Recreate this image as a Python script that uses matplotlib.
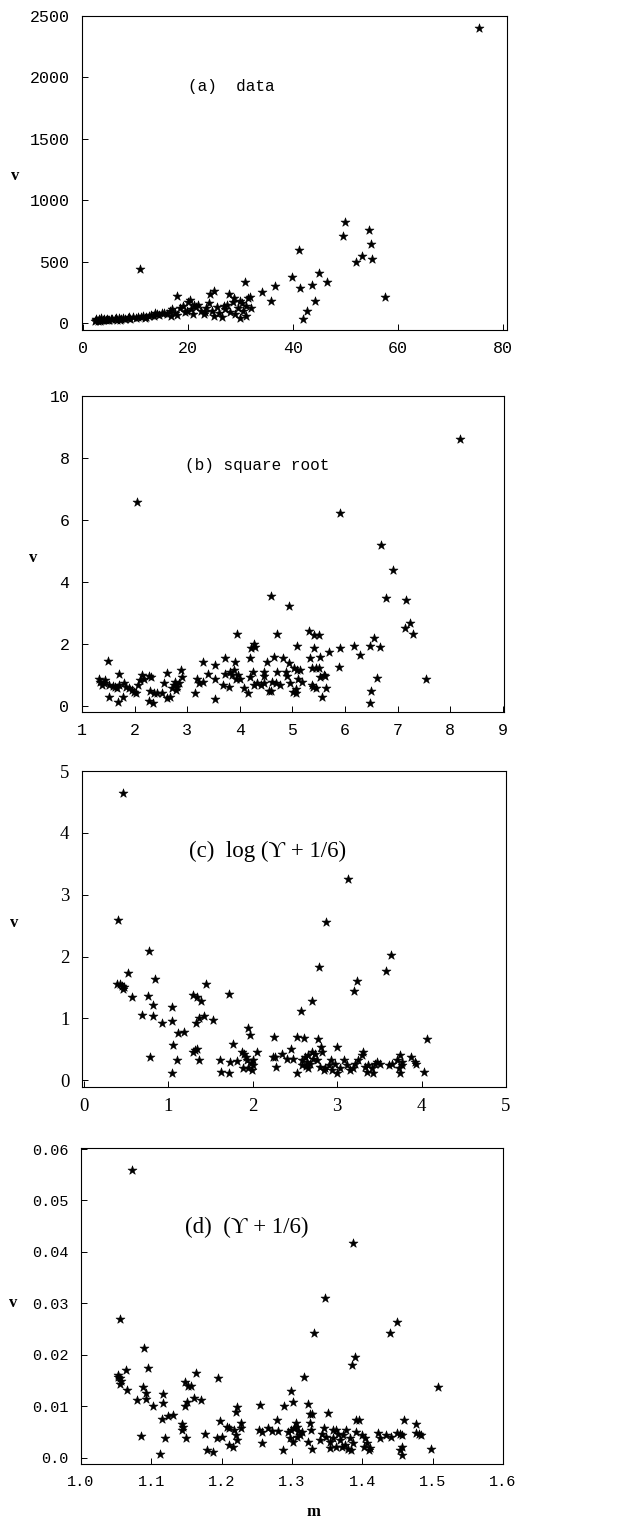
import matplotlib
matplotlib.use("Agg")
import matplotlib.pyplot as plt
import numpy as np

# (a) raw data
a_m = [75.4, 10.9, 49.9, 49.6, 54.5, 54.8, 55.1, 53.2, 52.1, 57.5, 41.1, 39.8, 41.3, 44.9, 43.7,
       46.4, 44.3, 42.6, 41.9, 34.1, 36.6, 35.9, 30.8, 17.9, 20.4, 24.2, 24.9, 27.9,
       2.2, 2.5, 2.8, 3.0, 3.2, 3.5, 3.8, 4.0, 4.3, 4.6, 5.0, 5.3, 5.6, 6.0, 6.4, 6.8, 7.2, 7.6,
       8.0, 8.5, 9.0, 9.5, 10.0, 10.5, 11.0, 11.5, 12.0, 12.5, 13.0, 13.5, 14.0, 14.5, 15.0,
       15.5, 16.0, 16.5, 17.0, 17.5, 18.0, 18.5, 19.0, 19.5, 20.0, 20.5, 21.0, 21.5, 22.0,
       22.5, 23.0, 23.5, 24.0, 24.5, 25.0, 25.5, 26.0, 26.5, 27.0, 27.5, 28.0, 28.5, 29.0,
       29.5, 30.0, 30.5, 31.0, 31.5, 31.0, 30.0, 32.0, 2.4, 3.4, 4.8, 6.2, 7.0, 8.8, 11.8,
       13.8, 16.8, 19.8, 21.2, 23.2, 26.8, 28.8, 30.2, 31.8]
a_v = [2399, 439, 819, 710, 754, 645, 520, 548, 493, 209, 596, 374, 285, 407, 312,
       331, 176, 95, 33, 252, 304, 176, 331, 217, 190, 239, 258, 239,
       15, 25, 20, 30, 18, 28, 22, 35, 25, 32, 28, 36, 30, 33, 28, 38, 34, 40,
       30, 42, 36, 48, 40, 52, 45, 60, 50, 58, 68, 55, 70, 62, 78,
       85, 70, 95, 110, 80, 65, 120, 140, 90, 170, 110, 75, 130, 150,
       95, 70, 120, 160, 100, 60, 130, 80, 50, 110, 150, 90, 170, 70,
       120, 180, 100, 140, 200, 60, 40, 120, 32, 40, 22, 42, 28, 48, 38,
       80, 60, 100, 150, 90, 140, 200, 160, 210]

# (b) square root
b_m = [2.04, 8.18, 5.91, 6.68, 6.91, 6.77, 7.15, 7.14, 7.23, 7.29, 4.59, 4.93, 3.95, 4.70,
       5.32, 5.40, 5.50, 1.49, 1.35, 1.41, 1.38, 1.44, 1.33, 1.52, 1.59, 1.63, 1.70, 1.66,
       1.70, 1.52, 1.68, 1.78, 1.80, 1.84, 1.89, 1.95, 1.98, 2.03, 2.06, 2.10, 2.14, 2.18,
       2.27, 2.31, 2.30, 2.37, 2.27, 2.35, 2.42, 2.52, 2.61, 2.56, 2.61, 2.67, 2.71, 2.74,
       2.77, 2.81, 2.79, 2.84, 2.88, 2.90, 3.15, 3.19, 3.22, 3.30, 3.30, 3.39, 3.53, 3.53,
       3.52, 3.68, 3.72, 3.79, 3.72, 3.82, 3.88, 3.91, 3.96, 4.00, 3.85, 3.93, 4.07, 4.15,
       4.20, 4.20, 4.21, 4.26, 4.29, 4.25, 4.26, 4.33, 4.40, 4.45, 4.45, 4.45, 4.52, 4.56,
       4.59, 4.64, 4.62, 4.68, 4.71, 4.76, 4.82, 4.87, 4.90, 4.93, 4.96, 5.01, 5.06, 5.07,
       5.02, 5.08, 5.11, 5.18, 5.15, 5.09, 5.34, 5.37, 5.44, 5.50, 5.40, 5.39, 5.45, 5.37,
       5.52, 5.53, 5.59, 5.62, 5.56, 5.63, 5.69, 5.88, 5.90, 6.16, 6.29, 6.47, 6.54, 6.66,
       6.61, 6.49, 6.47, 7.54]
b_v = [6.59, 8.60, 6.24, 5.19, 4.39, 3.49, 3.42, 2.53, 2.67, 2.32, 3.56, 3.23, 2.34, 2.34,
       2.43, 2.29, 2.29, 1.45, 0.78, 0.73, 0.68, 0.84, 0.86, 0.68, 0.65, 0.62, 0.68, 0.57,
       1.05, 0.28, 0.12, 0.30, 0.73, 0.62, 0.57, 0.52, 0.46, 0.41, 0.68, 0.84, 1.00, 0.89,
       0.97, 0.95, 0.49, 0.41, 0.16, 0.11, 0.41, 0.43, 1.08, 0.75, 0.25, 0.30, 0.57, 0.68,
       0.78, 0.62, 0.52, 0.73, 1.18, 0.95, 0.43, 0.89, 0.73, 0.78, 1.43, 1.03, 1.32, 0.89,
       0.22, 0.68, 1.54, 0.62, 1.05, 1.11, 1.18, 1.43, 1.00, 0.89, 1.00, 0.89, 0.57, 0.41,
       0.95, 1.54, 1.86, 2.00, 1.89, 1.11, 0.68, 0.73, 0.68, 0.73, 1.11, 0.97, 1.43, 0.50,
       0.50, 1.59, 0.78, 0.73, 1.11, 0.68, 1.54, 1.11, 0.97, 1.38, 0.73, 0.46, 0.41, 0.54,
       1.22, 1.16, 0.89, 0.78, 1.16, 1.94, 1.54, 1.22, 1.22, 1.22, 1.86, 0.62, 0.57, 0.68,
       1.59, 0.95, 1.00, 0.97, 0.28, 0.60, 1.75, 1.27, 1.86, 1.94, 1.65, 1.94, 2.21, 1.91,
       0.92, 0.49, 0.11, 0.86]

# (c) log (Y + 1/6)
c_m = [0.465, 0.402, 0.769, 2.87, 3.13, 2.79, 3.64, 3.58, 3.23, 3.20, 2.70, 2.57,
       0.40, 0.45, 0.48, 0.46, 0.43, 0.52, 0.57, 0.76, 0.84, 0.82, 0.69, 0.82, 0.93, 0.79,
       1.04, 1.04, 1.06, 1.12, 1.19, 1.11, 1.05, 1.30, 1.34, 1.39, 1.45, 1.33, 1.36, 1.43,
       1.53, 1.30, 1.32, 1.34, 1.37, 1.61, 1.62, 1.72, 1.72, 1.73, 1.77, 1.81, 1.88, 1.90,
       1.92, 1.95, 1.97, 1.93, 1.98, 2.00, 1.95, 1.99, 2.01, 2.05, 1.89, 2.25, 2.24, 2.27,
       2.28, 2.35, 2.41, 2.45, 2.48, 2.52, 2.61, 2.53, 2.58, 2.62, 2.64, 2.66, 2.68, 2.71,
       2.74, 2.58, 2.63, 2.70, 2.76, 2.66, 2.78, 2.81, 2.82, 2.80, 2.84, 2.86, 2.90, 2.93,
       2.98, 2.94, 3.00, 3.04, 3.08, 3.12, 3.15, 3.19, 3.21, 3.25, 3.29, 3.31, 3.33, 3.35,
       3.37, 3.41, 3.43, 3.45, 3.47, 3.00, 3.51, 3.61, 3.65, 3.71, 3.75, 3.73, 3.75, 3.77,
       3.77, 3.88, 3.92, 3.94, 4.03, 4.07]
c_v = [4.64, 2.59, 2.09, 2.56, 3.26, 1.83, 2.02, 1.76, 1.61, 1.45, 1.28, 1.12,
       1.56, 1.52, 1.50, 1.48, 1.55, 1.73, 1.35, 1.36, 1.64, 1.21, 1.05, 1.04, 0.93, 0.37,
       1.18, 0.95, 0.57, 0.77, 0.78, 0.32, 0.11, 1.38, 1.35, 1.28, 1.55, 0.92, 1.00, 1.04,
       0.97, 0.46, 0.49, 0.51, 0.33, 0.33, 0.13, 1.40, 0.12, 0.30, 0.58, 0.31, 0.46, 0.43,
       0.38, 0.85, 0.73, 0.32, 0.28, 0.24, 0.19, 0.16, 0.32, 0.46, 0.19, 0.70, 0.38, 0.38,
       0.22, 0.43, 0.35, 0.50, 0.35, 0.70, 0.69, 0.11, 0.32, 0.38, 0.30, 0.40, 0.27, 0.35,
       0.43, 0.24, 0.23, 0.46, 0.32, 0.19, 0.67, 0.53, 0.46, 0.22, 0.16, 0.19, 0.24, 0.32,
       0.27, 0.16, 0.11, 0.19, 0.32, 0.24, 0.16, 0.19, 0.27, 0.32, 0.40, 0.46, 0.22, 0.13,
       0.24, 0.19, 0.11, 0.27, 0.30, 0.54, 0.27, 0.24, 0.26, 0.32, 0.40, 0.19, 0.11, 0.24,
       0.30, 0.37, 0.30, 0.27, 0.13, 0.66]

# (d) (Y + 1/6)
d_m = [1.073, 1.056, 1.0895, 1.0947, 1.064, 1.052, 1.055, 1.057, 1.056, 1.053, 1.065, 1.079,
       1.0876, 1.093, 1.093, 1.103, 1.117, 1.117, 1.115, 1.124, 1.131, 1.085, 1.112, 1.119,
       1.148, 1.152, 1.157, 1.164, 1.148, 1.151, 1.160, 1.170, 1.143, 1.144, 1.145, 1.150,
       1.176, 1.179, 1.187, 1.195, 1.198, 1.193, 1.200, 1.207, 1.210, 1.210, 1.216, 1.220,
       1.222, 1.218, 1.220, 1.222, 1.228, 1.228, 1.255, 1.253, 1.257, 1.257, 1.266, 1.271,
       1.278, 1.280, 1.287, 1.289, 1.298, 1.302, 1.295, 1.299, 1.303, 1.307, 1.309, 1.312,
       1.297, 1.302, 1.307, 1.314, 1.305, 1.317, 1.323, 1.325, 1.328, 1.325, 1.327, 1.323,
       1.328, 1.331, 1.347, 1.351, 1.342, 1.349, 1.354, 1.359, 1.363, 1.368, 1.373, 1.377,
       1.382, 1.387, 1.380, 1.384, 1.340, 1.354, 1.359, 1.366, 1.376, 1.371, 1.345, 1.362,
       1.387, 1.385, 1.389, 1.391, 1.395, 1.391, 1.399, 1.404, 1.406, 1.409, 1.402, 1.411,
       1.422, 1.425, 1.434, 1.441, 1.439, 1.449, 1.449, 1.454, 1.459, 1.457, 1.456, 1.453,
       1.456, 1.476, 1.477, 1.481, 1.484, 1.497, 1.508]
d_v = [0.0560, 0.0269, 0.0213, 0.0174, 0.0171, 0.0158, 0.0155, 0.0150, 0.0143, 0.0160, 0.0132, 0.0112,
       0.0137, 0.0125, 0.0115, 0.0100, 0.0124, 0.0107, 0.0075, 0.0081, 0.0083, 0.0042, 0.0008, 0.0038,
       0.0148, 0.0140, 0.0140, 0.0165, 0.0100, 0.0109, 0.0117, 0.0113, 0.0055, 0.0065, 0.0060, 0.0038,
       0.0046, 0.0016, 0.0012, 0.0156, 0.0072, 0.0038, 0.0041, 0.0060, 0.0057, 0.0025, 0.0021, 0.0090,
       0.0099, 0.0054, 0.0044, 0.0034, 0.0067, 0.0057, 0.0103, 0.0054, 0.0051, 0.0028, 0.0057, 0.0052,
       0.0073, 0.0052, 0.0016, 0.0101, 0.0130, 0.0109, 0.0051, 0.0054, 0.0057, 0.0060, 0.0052, 0.0044,
       0.0038, 0.0031, 0.0041, 0.0051, 0.0067, 0.0158, 0.0104, 0.0085, 0.0086, 0.0067, 0.0054, 0.0031,
       0.0018, 0.0242, 0.0310, 0.0088, 0.0047, 0.0041, 0.0031, 0.0038, 0.0021, 0.0034, 0.0044, 0.0054,
       0.0038, 0.0028, 0.0018, 0.0015, 0.0034, 0.0020, 0.0054, 0.0047, 0.0025, 0.0021, 0.0057, 0.0055,
       0.0418, 0.0180, 0.0195, 0.0073, 0.0073, 0.0051, 0.0044, 0.0038, 0.0028, 0.0015, 0.0021, 0.0020,
       0.0049, 0.0038, 0.0044, 0.0041, 0.0242, 0.0263, 0.0049, 0.0047, 0.0073, 0.0044, 0.0021, 0.0015,
       0.0005, 0.0066, 0.0049, 0.0046, 0.0044, 0.0018, 0.0138]

mono = "Liberation Mono"
serif = ["Liberation Serif", "DejaVu Serif"]

fig = plt.figure(figsize=(6.26, 15.26), dpi=100)
W, H = 626, 1526


def make_axes(left, right, top, bottom):
    # box given in pixels from the top-left corner of the figure
    return fig.add_axes([left / W, 1 - bottom / H, (right - left) / W, (bottom - top) / H])


panels = [
    dict(box=(82, 507, 16, 330), m=a_m, v=a_v, xlim=(-0.2, 80.8), ylim=(-57, 2500),
         xt=[0, 20, 40, 60, 80], yt=[0, 500, 1000, 1500, 2000, 2500],
         xl=["0", "20", "40", "60", "80"], yl=["0", "500", "1000", "1500", "2000", "2500"],
         title="(a)  data", tpos=(0.25, 0.777), tfont=mono, tsize=11.5, vpos=(15, 176),
         tickfont=mono, ticksize=12),
    dict(box=(82, 504, 396, 712), m=b_m, v=b_v, xlim=(1.0, 9.02), ylim=(-0.19, 10),
         xt=list(range(1, 10)), yt=[0, 2, 4, 6, 8, 10],
         xl=[str(i) for i in range(1, 10)], yl=["0", "2", "4", "6", "8", "10"],
         title="(b) square root", tpos=(0.244, 0.78), tfont=mono, tsize=11.5, vpos=(33, 558),
         tickfont=mono, ticksize=12),
    dict(box=(82, 506, 771, 1087), m=c_m, v=c_v, xlim=(-0.02, 5.0), ylim=(-0.11, 5),
         xt=[0, 1, 2, 3, 4, 5], yt=[0, 1, 2, 3, 4, 5],
         xl=["0", "1", "2", "3", "4", "5"], yl=["0", "1", "2", "3", "4", "5"],
         title="(c)  log (\u03d2 + 1/6)", tpos=(0.252, 0.744), tfont=serif, tsize=16.5, vpos=(14, 923),
         tickfont=serif, ticksize=13.5),
    dict(box=(81, 503, 1148, 1464), m=d_m, v=d_v, xlim=(1.0, 1.6), ylim=(-0.0012, 0.0602),
         xt=[1.0, 1.1, 1.2, 1.3, 1.4, 1.5, 1.6], yt=[0, 0.01, 0.02, 0.03, 0.04, 0.05, 0.06],
         xl=["1.0", "1.1", "1.2", "1.3", "1.4", "1.5", "1.6"],
         yl=["0.0", "0.01", "0.02", "0.03", "0.04", "0.05", "0.06"],
         title="(d)  (\u03d2 + 1/6)", tpos=(0.246, 0.747), tfont=serif, tsize=16.5, vpos=(13, 1303),
         tickfont=mono, ticksize=11),
]

for p in panels:
    ax = make_axes(*p["box"])
    ax.scatter(p["m"], p["v"], marker="*", s=46, color="black", linewidths=0.4, zorder=3)
    ax.set_xlim(*p["xlim"])
    ax.set_ylim(*p["ylim"])
    ax.set_xticks(p["xt"])
    ax.set_yticks(p["yt"])
    ax.set_xticklabels(p["xl"], family=p["tickfont"], fontsize=p["ticksize"])
    ax.set_yticklabels(p["yl"], family=p["tickfont"], fontsize=p["ticksize"])
    ax.tick_params(direction="in", length=4, width=0.7, top=False, right=False)
    ax.tick_params(axis="x", pad=8)
    ax.tick_params(axis="y", pad=9)
    for s in ax.spines.values():
        s.set_linewidth(0.8)
    ax.text(p["tpos"][0], p["tpos"][1], p["title"], transform=ax.transAxes,
            family=p["tfont"], fontsize=p["tsize"], va="center", ha="left")
    fig.text(p["vpos"][0] / W, 1 - p["vpos"][1] / H, "v", family=serif,
             fontsize=12, fontweight="bold", ha="center", va="center")

fig.text(313 / W, 1 - 1512 / H, "m", family=serif, fontsize=12, fontweight="bold",
         ha="center", va="center")

fig.savefig("out.png", dpi=100)
